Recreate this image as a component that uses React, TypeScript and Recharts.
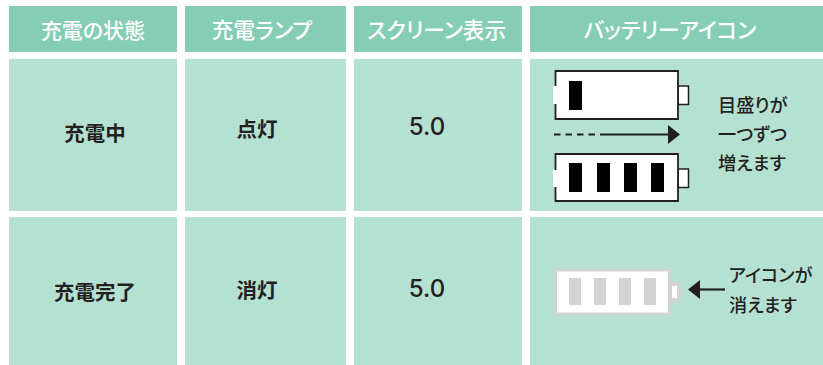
import React from 'react';
import { ComposedChart, XAxis, YAxis, Scatter, ReferenceArea, ReferenceLine } from 'recharts';

const WIDTH = 823;
const HEIGHT = 365;

const HEADER_FILL = '#86cdb6';
const CELL_FILL = '#b5e1d2';
const INK = '#231f20';
const GREY = '#d1d3d4';
const FONT = '"Noto Sans CJK JP", "Noto Sans", sans-serif';

// table grid
const columnEdges = [[9, 177], [185, 346], [354, 522], [530, 823]];
const rowEdges = [[6, 52], [59, 211], [217, 365]];

const headers = ['充電の状態', '充電ランプ', 'スクリーン表示', 'バッテリーアイコン'];
const headerCenters = [93, 262, 436.5, 670];
const headerSizes = [21, 21.6, 21.6, 21.6];
const rowLabels = ['充電中', '充電完了'];
const lampLabels = ['点灯', '消灯'];
const screenLabels = ['5.0', '5.0'];

// battery icons: [x0, x1, y0, y1]
const blackBatteries = [[555.5, 678, 71, 119], [555.5, 678, 154, 201]];
const blackTerminals = [[678, 688.5, 86, 104.5], [678, 688.5, 169, 187.5]];
const blackGaps = [[553, 557, 86, 104], [553, 557, 170, 187]];
const blackSegments = [
  [569, 582, 81, 110],
  [569, 582, 163, 192],
  [597, 610, 163, 192],
  [624, 637, 163, 192],
  [651, 664, 163, 192],
];
const greySegments = [[569, 581, 278, 305], [594, 606, 278, 305], [619, 631, 278, 305], [644, 656, 278, 305]];

const noteLines = [
  { x: 718, y: 103.5, text: '目盛りが', size: 18.2 },
  { x: 718, y: 133, text: '一つずつ', size: 18.2 },
  { x: 718, y: 161.5, text: '増えます', size: 18.2 },
  { x: 729, y: 273.5, text: 'アイコンが', size: 18.2 },
  { x: 729, y: 303.5, text: '消えます', size: 18.2 },
];

const arrowHeads = [
  { x: 674, y: 134.5, dir: 1 },
  { x: 694, y: 289.5, dir: -1 },
];

const cellTexts = [
  ...headers.map((text, i) => ({ x: headerCenters[i], y: 28.5, text, fill: '#ffffff', size: headerSizes[i], weight: 500, anchor: 'middle' })),
  ...rowLabels.map((text, i) => ({ x: 95, y: i === 0 ? 131.5 : 290.5, text, fill: INK, size: 20.5, weight: 700, anchor: 'middle' })),
  ...lampLabels.map((text, i) => ({ x: 257, y: i === 0 ? 128 : 288.5, text, fill: INK, size: 20.5, weight: 700, anchor: 'middle' })),
  ...screenLabels.map((text, i) => ({ x: 427, y: i === 0 ? 126 : 288, text, fill: INK, size: 24, weight: 500, anchor: 'middle' })),
  ...noteLines.map(n => ({ ...n, fill: INK, weight: 500, anchor: 'start' })),
];

const TextMark = (props: any) => {
  const { cx, cy, payload } = props;
  return (
    <text
      x={cx}
      y={cy}
      fill={payload.fill}
      fontSize={payload.size}
      fontWeight={payload.weight}
      fontFamily={payload.text === '5.0' ? 'Inter, sans-serif' : FONT}
      textAnchor={payload.anchor}
      dominantBaseline="central"
      style={{ fontFeatureSettings: '"palt"' }}
    >
      {payload.text}
    </text>
  );
};

const ArrowHead = (props: any) => {
  const { cx, cy, payload } = props;
  const d = payload.dir * 6;
  return <polygon points={`${cx + d},${cy} ${cx - d},${cy - 9.5} ${cx - d},${cy + 9.5}`} fill={INK} />;
};

export default function App() {
  return (
    <div style={{ position: 'absolute', left: 0, top: 0, width: WIDTH, height: HEIGHT, background: '#fff' }}>
      <ComposedChart width={WIDTH} height={HEIGHT} margin={{ top: 0, right: 0, bottom: 0, left: 0 }}>
        <XAxis type="number" dataKey="x" domain={[0, WIDTH]} hide />
        <YAxis type="number" dataKey="y" domain={[0, HEIGHT]} reversed hide width={0} />

        {rowEdges.flatMap(([y1, y2], r) =>
          columnEdges.map(([x1, x2], c) => (
            <ReferenceArea key={`cell-${r}-${c}`} x1={x1} x2={x2} y1={y1} y2={y2} fill={r === 0 ? HEADER_FILL : CELL_FILL} fillOpacity={1} stroke="none" />
          ))
        )}

        {blackTerminals.map(([x1, x2, y1, y2], i) => (
          <ReferenceArea key={`term-${i}`} x1={x1} x2={x2} y1={y1} y2={y2} fill="#fff" fillOpacity={1} stroke={INK} strokeWidth={1.5} />
        ))}
        {blackBatteries.map(([x1, x2, y1, y2], i) => (
          <ReferenceArea key={`batt-${i}`} x1={x1} x2={x2} y1={y1} y2={y2} fill="#fff" fillOpacity={1} stroke={INK} strokeWidth={1.8} />
        ))}
        {blackGaps.map(([x1, x2, y1, y2], i) => (
          <ReferenceArea key={`gap-${i}`} x1={x1} x2={x2} y1={y1} y2={y2} fill="#fff" fillOpacity={1} stroke="none" />
        ))}
        {blackSegments.map(([x1, x2, y1, y2], i) => (
          <ReferenceArea key={`seg-${i}`} x1={x1} x2={x2} y1={y1} y2={y2} fill="#000" fillOpacity={1} stroke="none" />
        ))}

        <ReferenceArea x1={671} x2={681} y1={282} y2={303} fill={GREY} fillOpacity={1} stroke="none" />
        <ReferenceArea x1={672} x2={677} y1={286} y2={298} fill="#fff" fillOpacity={1} stroke="none" />
        <ReferenceArea x1={555.5} x2={669.5} y1={270} y2={314} fill="#fff" fillOpacity={1} stroke={GREY} strokeWidth={3} />
        {greySegments.map(([x1, x2, y1, y2], i) => (
          <ReferenceArea key={`grey-${i}`} x1={x1} x2={x2} y1={y1} y2={y2} fill={GREY} fillOpacity={1} stroke="none" />
        ))}

        <ReferenceLine segment={[{ x: 554, y: 134.5 }, { x: 597, y: 134.5 }]} stroke={INK} strokeWidth={2.2} strokeDasharray="6.5 5" />
        <ReferenceLine segment={[{ x: 600, y: 134.5 }, { x: 670, y: 134.5 }]} stroke={INK} strokeWidth={2.2} />
        <ReferenceLine segment={[{ x: 698, y: 289.5 }, { x: 725, y: 289.5 }]} stroke={INK} strokeWidth={2.2} />

        <Scatter data={arrowHeads} shape={ArrowHead} isAnimationActive={false} />
        <Scatter data={cellTexts} shape={TextMark} isAnimationActive={false} />
      </ComposedChart>
    </div>
  );
}
